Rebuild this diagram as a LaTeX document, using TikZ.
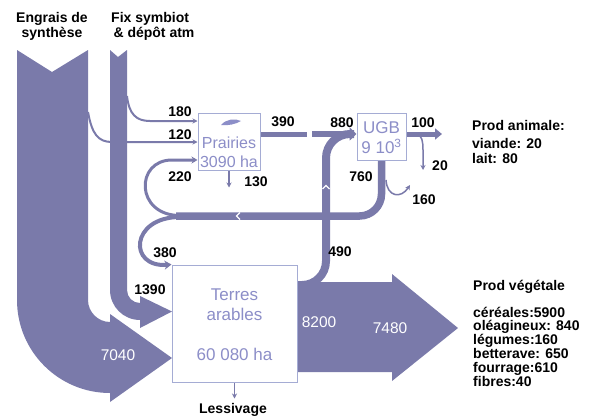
\documentclass[tikz,border=0pt]{standalone}
\usepackage{fontspec}
\setmainfont{Liberation Sans}
\usetikzlibrary{arrows.meta,backgrounds}
\definecolor{flux}{RGB}{122,122,170}
\definecolor{cadre}{RGB}{165,172,212}
\definecolor{texte}{RGB}{140,142,200}
\tikzset{
  chiffre/.style={font=\bfseries\fontsize{14}{14}\selectfont, inner sep=0pt},
  titre/.style={font=\bfseries\fontsize{14}{15}\selectfont, inner sep=0pt},
  liste/.style={font=\bfseries\fontsize{14}{13.8}\selectfont, inner sep=0pt, align=left, anchor=west},
  blanc/.style={font=\fontsize{15.5}{16}\selectfont, text=white, inner sep=0pt},
  boite/.style={draw=cadre, line width=1pt, fill=white, inner sep=0pt},
  boitetxt/.style={text=texte, font=\fontsize{17}{20}\selectfont, align=center, inner sep=0pt},
  fleche/.style={draw=flux, line width=1.5pt, -{Stealth[length=5pt,width=5pt]}},
}
\begin{document}
\begin{tikzpicture}[x=1pt,y=-1pt]
\useasboundingbox (0,0) rectangle (596,418);
\node[boite, minimum width=62pt, minimum height=57pt] (prairies) at (229,141.5) {};
\node[boite, minimum width=49pt, minimum height=47pt] (ugb) at (381.5,136.5) {};
\node[boite, minimum width=125pt, minimum height=117pt] (terres) at (234.5,323.5) {};
\fill[texte] (221,125) .. controls (226,119) and (235,118) .. (241,121) .. controls (236,124) and (228,126) .. cycle;
\node[boitetxt, font=\fontsize{16}{19}\selectfont] (prairiestxt) at (229,152) {Prairies\\3090 ha};
\node[boitetxt] (ugbtxt) at (381.5,138) {UGB\\9 10\textsuperscript{3}};
\node[boitetxt] (terrestxt) at (234.5,325) {Terres\\arables\\[20pt]60 080 ha};
\begin{scope}[on background layer]
% engrais et fixation
\fill[flux] (17,50) -- (52,72) -- (88,50) -- (88,300) .. controls (88,312) and (98,322) .. (110,322) -- (110,314) -- (172,358) -- (110,402) -- (110,393) .. controls (58.6,393) and (17,351.4) .. (17,300) -- cycle;
\draw[fleche, line width=2pt] (88,112) .. controls (92,134) and (98,142) .. (112,142) -- (prairies.west |- 0,142);
\fill[flux] (110,50) -- (118,57) -- (127,50) -- (127,290) .. controls (127,297.2) and (132.8,303) .. (140,303) -- (140,296) -- (172,311.5) -- (140,328) -- (140,320) .. controls (123.4,320) and (110,306.6) .. (110,290) -- cycle;
\draw[fleche, line width=2pt] (127,96) .. controls (129,114) and (136,121) .. (150,121) -- (prairies.west |- 0,121);
% retour depuis UGB
\draw[flux, line width=7.5pt, rounded corners=22pt] (ugb.south) -- (381.5,216) -- (176,216);
\draw[fleche, line width=3pt, -{Stealth[length=6pt,width=7pt]}] (180,215.5) .. controls (135,215.5) and (135,160) .. (172,160) -- (prairies.west |- 0,160);
\draw[fleche, line width=4pt, -{Stealth[length=7pt,width=9pt]}] (180,217) .. controls (130,217) and (128,268) .. (terres.north west);
\draw[white, line width=1.2pt] (240,212.5) -- (236.5,216) -- (240,219.5);
% vers UGB
\draw[flux, line width=8pt, rounded corners=24pt] (297,285) -- (326,285) -- (326,134) -- (354,134);
\draw[white, line width=1.2pt] (322.5,189) -- (326,185.5) -- (329.5,189);
\draw[flux, line width=5pt] (prairies.east |- 0,134) -- (307,134);
\draw[flux, line width=6pt, -{Triangle[length=7pt,width=13pt]}] (312,134) -- (ugb.west |- 0,134);
\draw[flux, line width=5pt, -{Triangle[length=7pt,width=11pt]}] (ugb.east |- 0,134) -- (442,134);
\draw[fleche] (417,134) .. controls (422,136) and (423,141) .. (423,150) -- (423,170);
\draw[fleche] (386,180) .. controls (387,197) and (401,199) .. (410,185);
\draw[fleche] (prairies.south) -- ++(0,17);
\draw[fleche] (terres.south) -- ++(0,16);
% production vegetale
\fill[flux] (297,282) -- (392,282) -- (392,274) -- (458,328) -- (392,381) -- (392,372) -- (297,372) -- cycle;
\end{scope}
\node[titre, align=center] (engrais) at (52,26) {Engrais de\\synthèse};
\node[titre, align=left, anchor=west] (fix) at (111,26) {Fix symbiot\\\,\& dépôt atm};
\node[chiffre] (n180) at (180,112) {180};
\node[chiffre] (n120) at (180,135) {120};
\node[chiffre] (n220) at (180,177) {220};
\node[chiffre] (n130) at (256,182) {130};
\node[chiffre] (n390) at (283,122) {390};
\node[chiffre] (n880) at (342,123) {880};
\node[chiffre] (n100) at (423,123) {100};
\node[chiffre] (n20) at (440,166) {20};
\node[chiffre] (n760) at (361,177) {760};
\node[chiffre] (n160) at (424,200) {160};
\node[chiffre] (n380) at (165,253) {380};
\node[chiffre] (n1390) at (150,290) {1390};
\node[chiffre] (n490) at (340,252) {490};
\node[chiffre] (lessivage) at (233,410) {Lessivage};
\node[blanc] (n7040) at (118,355) {7040};
\node[blanc] (n8200) at (319,322) {8200};
\node[blanc] (n7480) at (390,328) {7480};
\node[chiffre, anchor=west] (animale) at (472,125) {Prod animale:};
\node[liste, font=\bfseries\fontsize{14}{15}\selectfont] (animaletxt) at (472,150.5) {viande: 20\\lait: 80};
\node[chiffre, anchor=west] (vegetale) at (473,287) {Prod végétale};
\node[liste] (vegetaletxt) at (473,346.5) {céréales:5900\\oléagineux: 840\\légumes:160\\betterave: 650\\fourrage:610\\fibres:40};
\end{tikzpicture}
\end{document}
